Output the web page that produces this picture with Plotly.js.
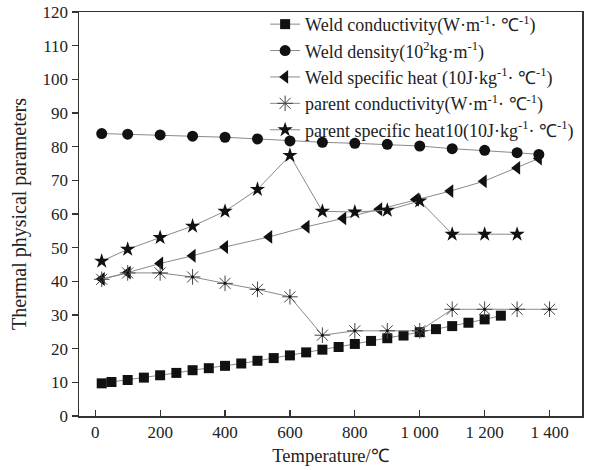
<!DOCTYPE html>
<html>
<head>
<meta charset="utf-8">
<script src="https://cdn.plot.ly/plotly-3.0.1.min.js"></script>
<style>html,body{margin:0;padding:0;background:#fff;}#chart{width:594px;height:470px;}</style>
</head>
<body>
<div id="chart"></div>
<script>
// Weld conductivity (W·m-1·℃-1)
const weldCondT = [20,50,100,150,200,250,300,350,400,450,500,550,600,650,700,750,800,850,900,950,1000,1050,1100,1150,1200,1250];
const weldCond  = [9.7,10.1,10.7,11.4,12.1,12.8,13.6,14.2,14.9,15.6,16.4,17.2,18.0,18.9,19.7,20.5,21.4,22.3,23.1,23.9,24.9,25.8,26.7,27.7,28.7,29.8];
// Weld density (10^2 kg·m-1)
const weldDensT = [20,100,200,300,400,500,600,700,800,900,1000,1100,1200,1300,1367];
const weldDens  = [83.9,83.7,83.5,83.1,82.8,82.3,81.7,81.3,81.0,80.7,80.2,79.4,78.9,78.2,77.7];
// Weld specific heat (10J·kg-1·℃-1)
const weldHeatT = [20,100,200,300,400,536,651,764,875,988,1094,1197,1300,1367];
const weldHeat  = [40.7,42.6,45.3,47.6,50.2,53.2,56.2,58.7,61.4,64.3,66.8,69.7,73.7,76.5];
// parent conductivity
const parCondT = [20,100,200,300,400,500,600,700,800,900,1000,1100,1200,1300,1400];
const parCond  = [40.6,42.5,42.5,41.3,39.4,37.6,35.4,24.0,25.3,25.3,25.3,31.7,31.7,31.7,31.7];
// parent specific heat
const parHeatT = [20,100,200,300,400,500,600,700,800,900,1000,1100,1200,1300];
const parHeat  = [46.0,49.5,53.0,56.4,60.8,67.3,77.4,60.8,60.6,61.1,63.9,54.0,54.0,54.0];

const xTickVals = [0,200,400,600,800,1000,1200,1400];
const xTickText = ['0','200','400','600','800','1 000','1 200','1 400'];

const names = [
  'Weld conductivity(W·m<sup>-1</sup>· ℃<sup>-1</sup>)',
  'Weld density(10<sup>2</sup>kg·m<sup>-1</sup>)',
  'Weld specific heat (10J·kg<sup>-1</sup>· ℃<sup>-1</sup>)',
  'parent conductivity(W·m<sup>-1</sup>· ℃<sup>-1</sup>)',
  'parent specific heat10(10J·kg<sup>-1</sup>· ℃<sup>-1</sup>)'
];

const lineStyle = {color:'#8a8a8a', width:1};
const traces = [
  {x:weldCondT, y:weldCond, name:names[0], mode:'lines+markers', line:lineStyle,
   marker:{symbol:'square', size:10, color:'#111'}},
  {x:weldDensT, y:weldDens, name:names[1], mode:'lines+markers', line:lineStyle,
   marker:{symbol:'circle', size:11, color:'#111'}},
  {x:weldHeatT, y:weldHeat, name:names[2], mode:'lines+markers', line:lineStyle,
   marker:{symbol:'triangle-left', size:12, color:'#111'}},
  {x:parCondT, y:parCond, name:names[3], mode:'lines+markers', line:lineStyle,
   marker:{symbol:'asterisk-open', size:13, color:'#444', line:{color:'#666', width:1}}},
  {x:parHeatT, y:parHeat, name:names[4], mode:'lines+markers', line:lineStyle,
   marker:{symbol:'star', size:11.5, color:'#111'}},
  {x:parCondT, y:parCond, mode:'markers', showlegend:false, hoverinfo:'skip',
   marker:{symbol:'circle', size:3, color:'#111'}}
];

const fam = '"Liberation Serif", "Times New Roman", serif';
const layout = {
  width:594, height:470,
  margin:{l:79, r:12, t:12, b:54, autoexpand:false},
  paper_bgcolor:'#fff', plot_bgcolor:'#fff',
  font:{family:fam, size:17, color:'#222'},
  showlegend:true,
  legend:{x:0.37, y:1.015, xanchor:'left', yanchor:'top', bgcolor:'rgba(255,255,255,0)',
          font:{family:fam, size:18, color:'#222'}, tracegroupgap:0, itemwidth:30},
  xaxis:{range:[-50,1500], tickvals:xTickVals, ticktext:xTickText, showgrid:false, zeroline:false,
         showline:true, mirror:true, linecolor:'#333', linewidth:1.5,
         ticks:'inside', ticklen:6, tickcolor:'#333', tickwidth:1.2,
         tickfont:{family:fam, size:17, color:'#222'},
         title:{text:'Temperature/℃', font:{family:fam, size:18.5, color:'#222'}, standoff:8}},
  yaxis:{range:[0,120], dtick:10, showgrid:false, zeroline:false,
         showline:true, mirror:true, linecolor:'#333', linewidth:1.5,
         ticks:'outside', ticklen:6, tickcolor:'#333', tickwidth:1.2,
         tickfont:{family:fam, size:17, color:'#222'},
         title:{text:'Thermal physical parameters', font:{family:fam, size:20, color:'#222'}, standoff:10}}
};

Plotly.newPlot('chart', traces, layout, {displayModeBar:false, staticPlot:true});
</script>
</body>
</html>
